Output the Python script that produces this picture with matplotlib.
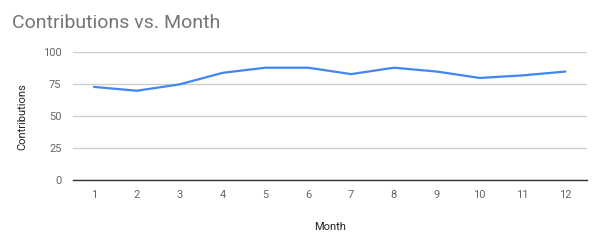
import matplotlib
matplotlib.use("Agg")
import matplotlib.pyplot as plt

months = [1, 2, 3, 4, 5, 6, 7, 8, 9, 10, 11, 12]
contributions = [73, 70, 75, 84, 88, 88, 83, 88, 85, 80, 82, 85]
yticks = [0, 25, 50, 75, 100]

plt.rcParams['font.family'] = ['Roboto', 'DejaVu Sans']

fig = plt.figure(figsize=(6, 2.47), dpi=100)
ax = fig.add_axes([0.121, 0.27, 0.857, 0.518])
ax.plot(months, contributions, color='#4285F4', linewidth=1.6, solid_capstyle='round', zorder=3)
ax.set_xlim(0.5, 12.5)
ax.set_ylim(0, 100)
ax.set_yticks(yticks)
ax.set_xticks(months)
ax.grid(axis='y', color='#cccccc', linewidth=0.9)
for s in ['top', 'right', 'left']:
    ax.spines[s].set_visible(False)
ax.spines['bottom'].set_color('#333333')
ax.spines['bottom'].set_linewidth(1.0)
ax.spines['bottom'].set_zorder(4)
ax.tick_params(axis='both', length=0, labelsize=8, labelcolor='#666666')
ax.tick_params(axis='x', pad=7)
ax.tick_params(axis='y', pad=8)
ax.set_xlabel('Month', fontsize=8, color='#222222', labelpad=16)
ax.set_ylabel('Contributions', fontsize=8, color='#222222', labelpad=11)
fig.text(0.02, 0.905, 'Contributions vs. Month', fontsize=14, color='#757575', va='center', ha='left')
fig.savefig('out.png', dpi=100)
